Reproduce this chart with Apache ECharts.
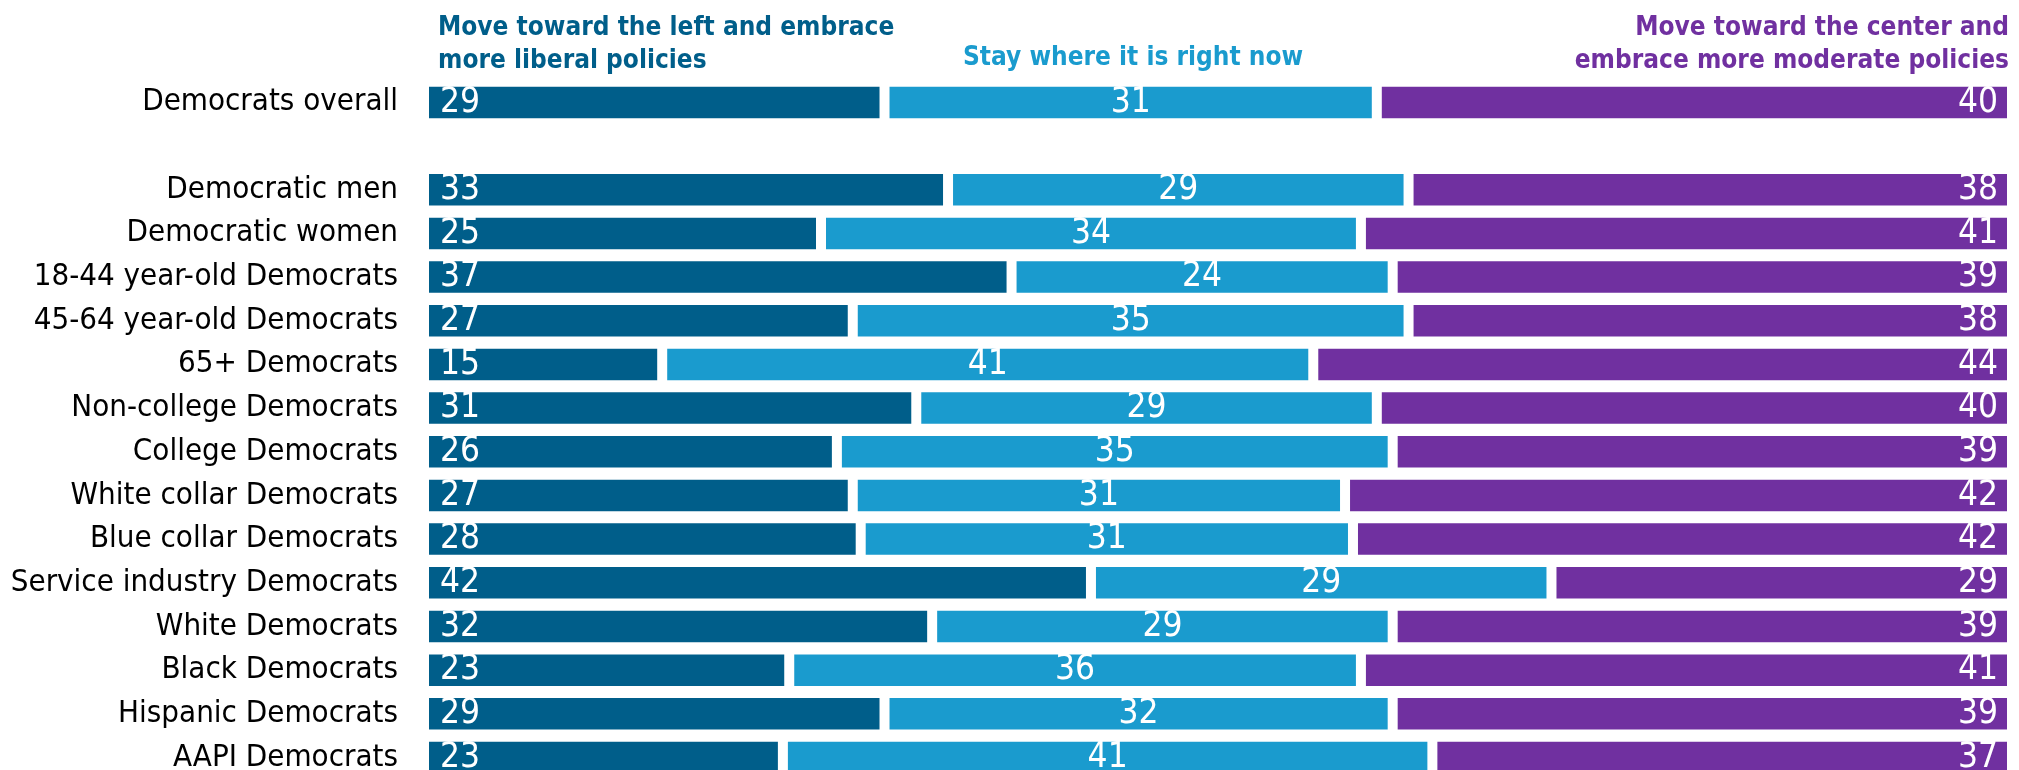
<!DOCTYPE html>
<html>
<head>
<meta charset="utf-8">
<script src="https://cdn.jsdelivr.net/npm/echarts@6/dist/echarts.min.js"></script>
<style>
html,body{margin:0;padding:0;background:#fff;}
#chart{width:2019px;height:770px;}
</style>
</head>
<body>
<div id="chart"></div>
<script>
const categories = ['Democrats overall', '', 'Democratic men', 'Democratic women', '18-44 year-old Democrats', '45-64 year-old Democrats', '65+ Democrats', 'Non-college Democrats', 'College Democrats', 'White collar Democrats', 'Blue collar Democrats', 'Service industry Democrats', 'White Democrats', 'Black Democrats', 'Hispanic Democrats', 'AAPI Democrats'];
const seriesNames = ['Move toward the left and embrace\nmore liberal policies', 'Stay where it is right now', 'Move toward the center and\nembrace more moderate policies'];
const moveLeft = [29, null, 33, 25, 37, 27, 15, 31, 26, 27, 27.5, 42, 32, 23, 29, 22.6];
const stayPut = [31, null, 29, 34, 24, 35, 41, 29, 35, 31, 31, 29, 29, 36, 32, 40.9];
const moveCenter = [40, null, 38, 41, 39, 38, 44, 40, 39, 42, 41.5, 29, 39, 41, 39, 36.5];

const FONT = "'DejaVu Sans Condensed', 'DejaVu Sans', sans-serif";
const colors = ['#005e8a', '#1a9bce', '#7030a0'];

const chart = echarts.init(document.getElementById('chart'), null, {renderer: 'canvas'});

function mkSeries(name, data, color, pos, dist) {
  return {
    name: name,
    type: 'bar',
    stack: 'total',
    data: data,
    barWidth: 41.5,
    itemStyle: {color: color, borderColor: '#ffffff', borderWidth: 5},
    label: {
      show: true,
      position: pos,
      distance: dist,
      color: '#ffffff',
      fontFamily: FONT,
      fontSize: 35,
      formatter: p => (p.value == null ? '' : String(Math.round(p.value)))
    },
    emphasis: {disabled: true},
    animation: false
  };
}

chart.setOption({
  animation: false,
  grid: {left: 424, width: 1588, top: 80.6, height: 698.7, containLabel: false, outerBoundsMode: 'none'},
  xAxis: {type: 'value', min: 0, max: 100, show: false},
  yAxis: {
    type: 'category',
    data: categories,
    inverse: true,
    axisLine: {show: false},
    axisTick: {show: false},
    splitLine: {show: false},
    axisLabel: {color: '#000000', fontFamily: FONT, fontSize: 31, margin: 26, interval: 0, hideOverlap: false}
  },
  series: [
    mkSeries(seriesNames[0], moveLeft, colors[0], 'insideLeft', 16),
    mkSeries(seriesNames[1], stayPut, colors[1], 'inside', 0),
    mkSeries(seriesNames[2], moveCenter, colors[2], 'insideRight', 14)
  ],
  graphic: [
    {type: 'text', left: 438, top: 12, style: {text: seriesNames[0], fill: colors[0], font: 'bold 26px ' + FONT, lineHeight: 33, textAlign: 'left'}},
    {type: 'text', left: 963, top: 42, style: {text: seriesNames[1], fill: colors[1], font: 'bold 26px ' + FONT, lineHeight: 33}},
    {type: 'text', right: 10, top: 12, style: {text: seriesNames[2], fill: colors[2], font: 'bold 26px ' + FONT, lineHeight: 33, textAlign: 'right'}}
  ]
});
</script>
</body>
</html>
